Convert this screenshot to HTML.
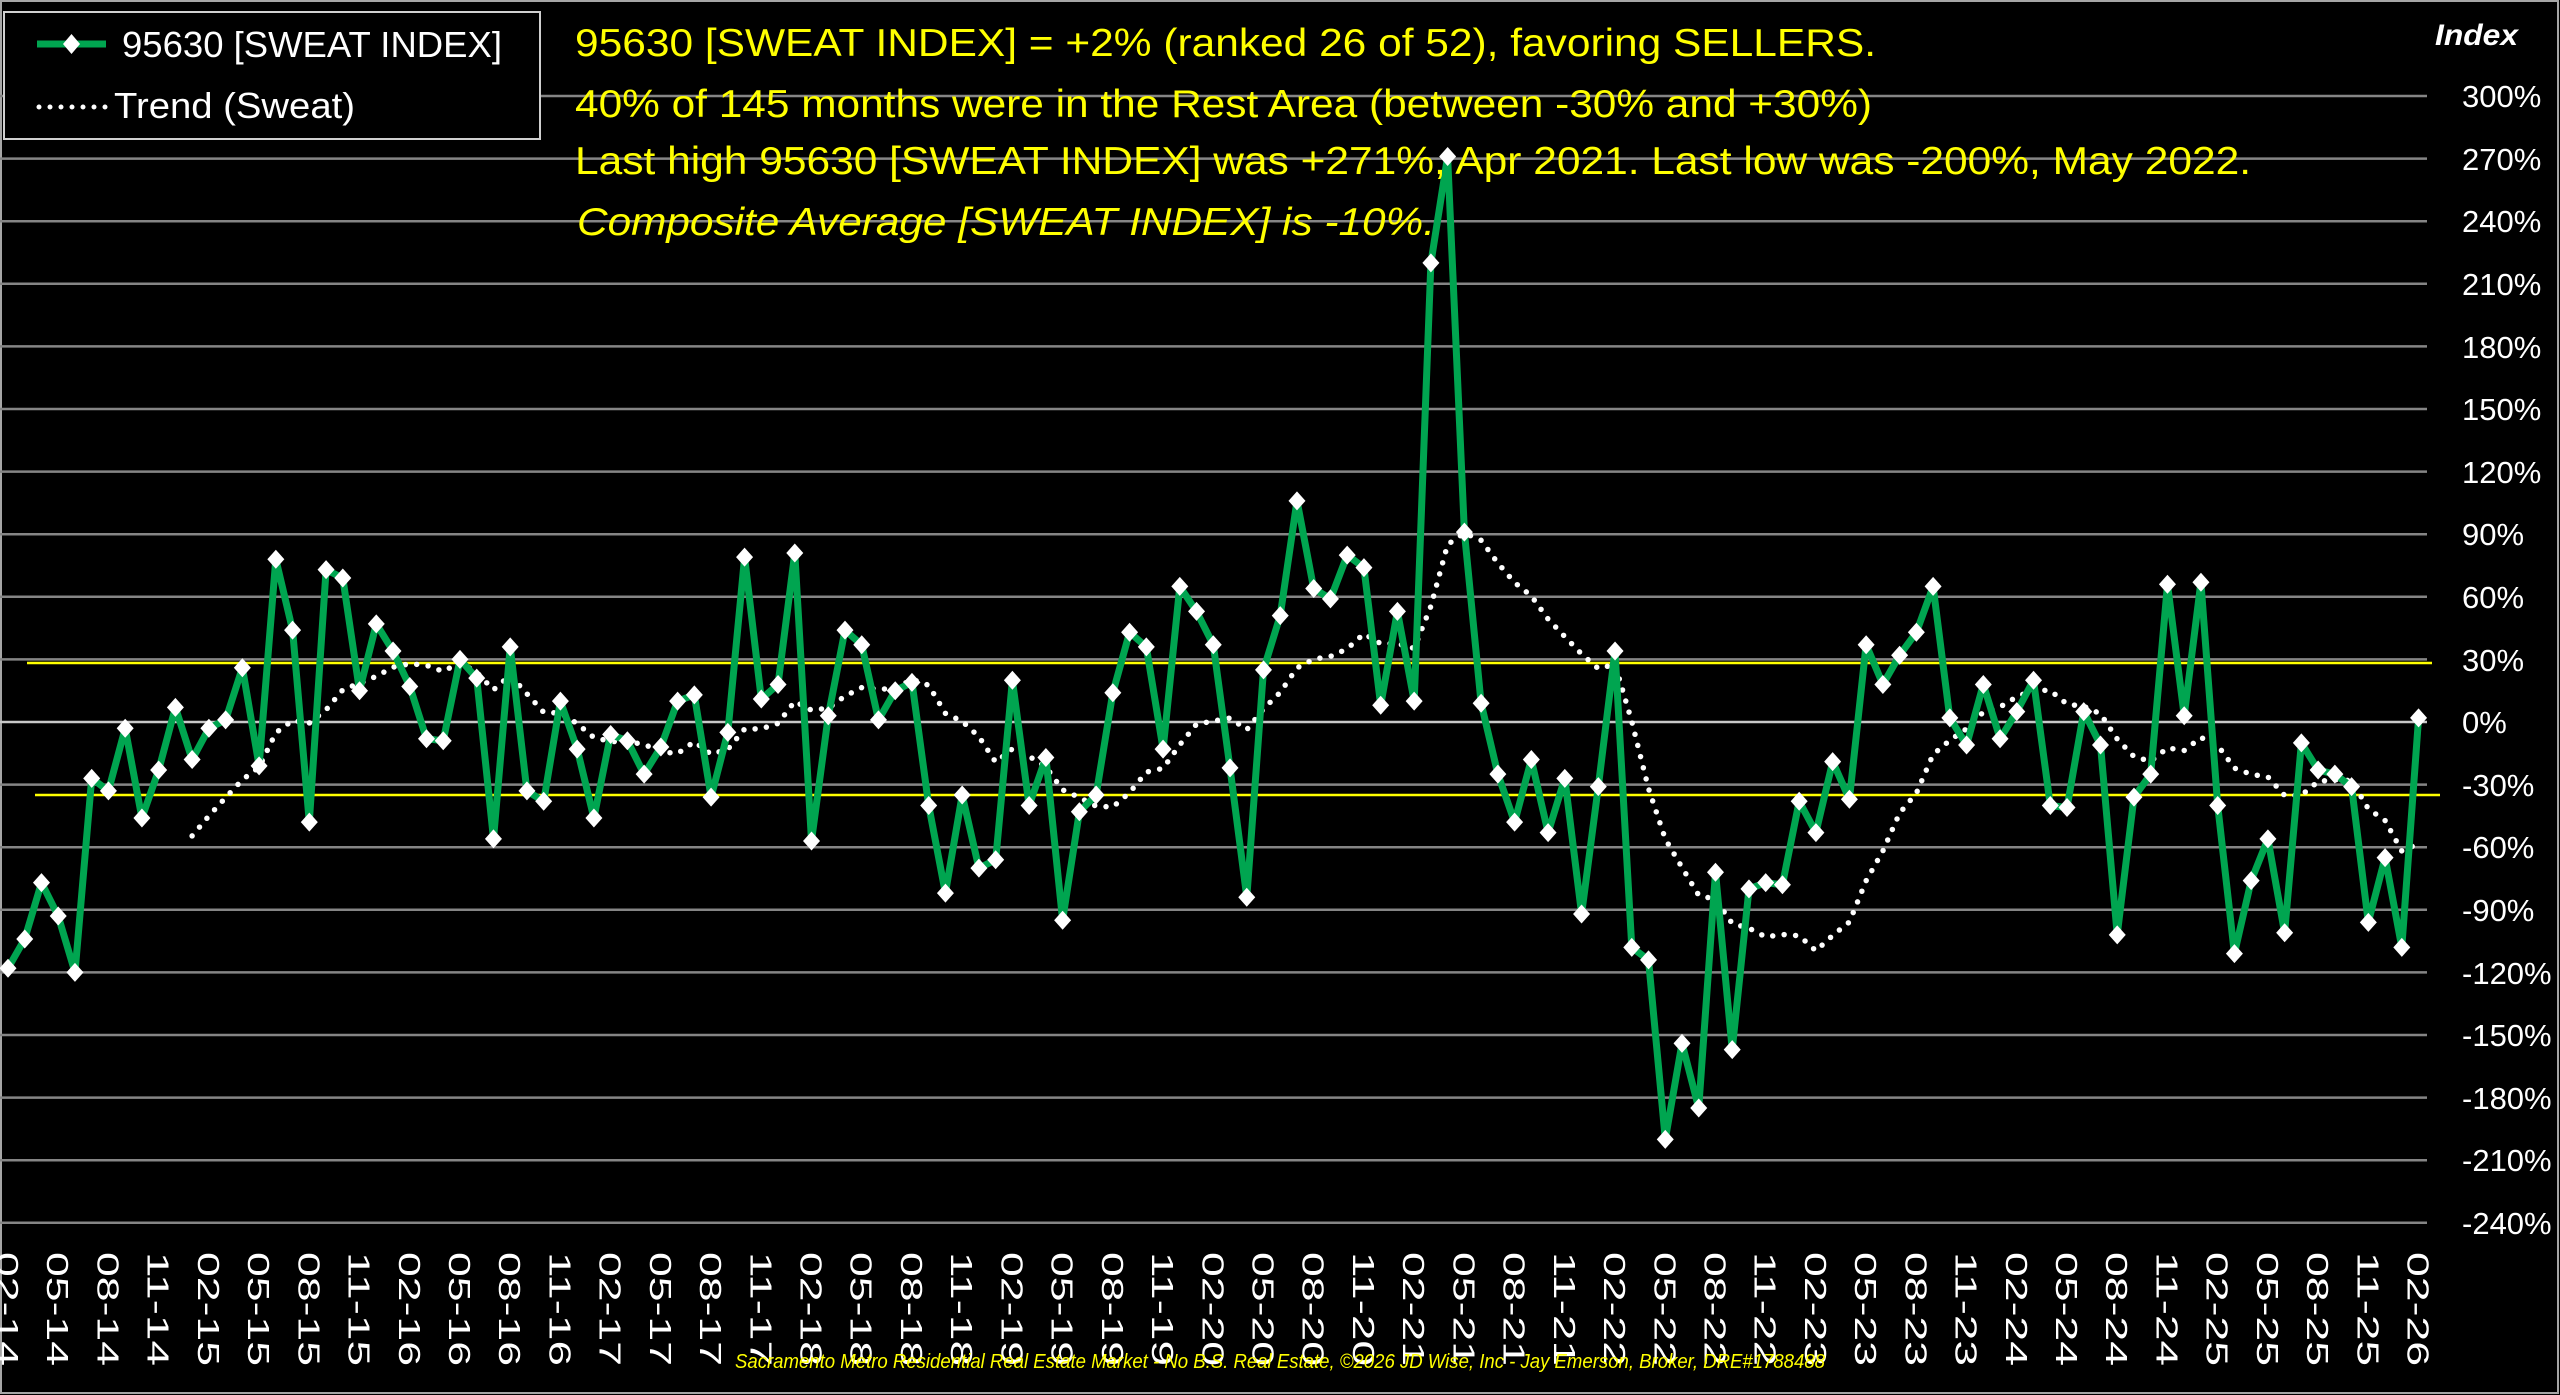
<!DOCTYPE html>
<html><head><meta charset="utf-8">
<style>
html,body{margin:0;padding:0;background:#000;}
svg{display:block;}
</style></head>
<body>
<svg id="c" width="2560" height="1395" viewBox="0 0 2560 1395" xmlns="http://www.w3.org/2000/svg">
<rect x="0" y="0" width="2560" height="1395" fill="#000"/>
<rect x="1" y="1" width="2557" height="1392" fill="none" stroke="#a6a6a6" stroke-width="2"/>
<g id="grid" stroke="#858585" stroke-width="2.5"></g>
<line x1="27" y1="663" x2="2432" y2="663" stroke="#ffff00" stroke-width="2.5"/>
<line x1="35" y1="795" x2="2440" y2="795" stroke="#ffff00" stroke-width="2.5"/>
<g id="ylab" font-family="Liberation Sans, sans-serif" font-size="31" fill="#fff">
<text x="2462" y="107">300%</text>
<text x="2462" y="170">270%</text>
<text x="2462" y="232">240%</text>
<text x="2462" y="295">210%</text>
<text x="2462" y="358">180%</text>
<text x="2462" y="420">150%</text>
<text x="2462" y="483">120%</text>
<text x="2462" y="545">90%</text>
<text x="2462" y="608">60%</text>
<text x="2462" y="671">30%</text>
<text x="2462" y="733">0%</text>
<text x="2462" y="796">-30%</text>
<text x="2462" y="858">-60%</text>
<text x="2462" y="921">-90%</text>
<text x="2462" y="984">-120%</text>
<text x="2462" y="1046">-150%</text>
<text x="2462" y="1109">-180%</text>
<text x="2462" y="1171">-210%</text>
<text x="2462" y="1234">-240%</text>
</g>
<text x="2435" y="45" font-family="Liberation Sans, sans-serif" font-size="30" font-weight="bold" font-style="italic" fill="#fff" textLength="83" lengthAdjust="spacingAndGlyphs">Index</text>
<polyline id="trend" fill="none" stroke="#fff" stroke-width="5.5" stroke-linecap="round" stroke-dasharray="0 11.5"/>
<polyline id="main" fill="none" stroke="#00a550" stroke-width="7" stroke-linejoin="round"/>
<g id="marks" fill="#fff"></g>
<g id="xlab" font-family="Liberation Sans, sans-serif" font-size="31" fill="#fff"></g>
<rect x="4" y="12" width="536" height="127" fill="#000" stroke="#d0d0d0" stroke-width="2"/>
<line x1="37" y1="44" x2="106" y2="44" stroke="#00a550" stroke-width="7"/>
<polygon points="71.5,34 80,44 71.5,54 63,44" fill="#fff"/>
<text x="122" y="57" font-family="Liberation Sans, sans-serif" font-size="36" fill="#fff" textLength="380" lengthAdjust="spacingAndGlyphs">95630 [SWEAT INDEX]</text>
<line x1="39" y1="107" x2="106" y2="107" stroke="#fff" stroke-width="5" stroke-linecap="round" stroke-dasharray="0 11"/>
<text x="114" y="118" font-family="Liberation Sans, sans-serif" font-size="36" fill="#fff" textLength="241" lengthAdjust="spacingAndGlyphs">Trend (Sweat)</text>
<g font-family="Liberation Sans, sans-serif" font-size="39" fill="#ffff00">
<text x="575" y="56" textLength="1301" lengthAdjust="spacingAndGlyphs">95630 [SWEAT INDEX] = +2% (ranked 26 of 52), favoring SELLERS.</text>
<text x="575" y="117" textLength="1297" lengthAdjust="spacingAndGlyphs">40% of 145 months were in the Rest Area (between -30% and +30%)</text>
<text x="575" y="174" textLength="1676" lengthAdjust="spacingAndGlyphs">Last high 95630 [SWEAT INDEX] was +271%, Apr 2021. Last low was -200%, May 2022.</text>
<text x="577" y="235" font-style="italic" textLength="858" lengthAdjust="spacingAndGlyphs">Composite Average [SWEAT INDEX] is -10%.</text>
</g>
<text x="735" y="1368" font-family="Liberation Sans, sans-serif" font-size="20" font-style="italic" fill="#ffff00" textLength="1090" lengthAdjust="spacingAndGlyphs">Sacramento Metro Residential Real Estate Market - No B.S. Real Estate, ©2026 JD Wise, Inc - Jay Emerson, Broker, DRE#1788488</text>
</svg>
<script>
(function(){
var NS="http://www.w3.org/2000/svg";
var v=[-118,-104,-77,-93,-120,-27,-33,-3,-46,-23,7,-18,-3,1,26,-21,78,44,-48,73,69,15,47,34,17,-8,-9,30,21,-56,36,-33,-38,10,-13,-46,-6,-9,-25,
-12,10,13,-36,-5,79,11,18,81,-57,3,44,37,1,15,19,-40,-82,-35,-70,-66,20,-40,-17,-95,-43,-35,14,43,36,-13,65,53,37,-22,-84,25,51,106,
64,59,80,74,8,53,10,220,271,91,9,-25,-48,-18,-53,-27,-92,-31,34,-108,-114,-200,-154,-185,-72,-157,-80,-77,-78,-38,-53,-19,-37,37,18,32,43,65,
2,-11,18,-8,5,20,-40,-41,5,-11,-102,-36,-25,66,3,67,-40,-111,-76,-56,-101,-10,-23,-25,-31,-96,-65,-108,2];
function X(i){return 8+16.74*i;}
function Y(p){return 722-p*62.6/30;}
var g=document.getElementById('grid');
for(var k=0;k<19;k++){var y=Y(300-30*k);var l=document.createElementNS(NS,'line');
l.setAttribute('x1',0);l.setAttribute('x2',2427);l.setAttribute('y1',y);l.setAttribute('y2',y);
if(300-30*k===0)l.setAttribute('stroke','#c8c8c8');g.appendChild(l);}
var pts=[];for(var i=0;i<v.length;i++)pts.push(X(i).toFixed(1)+','+Y(v[i]).toFixed(1));
document.getElementById('main').setAttribute('points',pts.join(' '));
var t=[];for(i=11;i<v.length;i++){var s=0;for(var j=i-11;j<=i;j++)s+=v[j];t.push(X(i).toFixed(1)+','+Y(s/12).toFixed(1));}
document.getElementById('trend').setAttribute('points',t.join(' '));
var m=document.getElementById('marks');
for(i=0;i<v.length;i++){var x=X(i),y=Y(v[i]);var p=document.createElementNS(NS,'polygon');
p.setAttribute('points',x+','+(y-9.5)+' '+(x+8.5)+','+y+' '+x+','+(y+9.5)+' '+(x-8.5)+','+y);m.appendChild(p);}
var xl=document.getElementById('xlab');var mon=['02','05','08','11'];
for(i=0;i<v.length;i+=3){var q=i/3;var yr=14+Math.floor(q/4);var lab=mon[q%4]+'-'+yr;
var tx=document.createElementNS(NS,'text');tx.setAttribute('transform','translate('+(X(i)-11).toFixed(1)+',1252) rotate(90)');
tx.setAttribute('textLength','114');tx.setAttribute('lengthAdjust','spacingAndGlyphs');tx.textContent=lab;xl.appendChild(tx);}
})();
</script>
</body></html>
